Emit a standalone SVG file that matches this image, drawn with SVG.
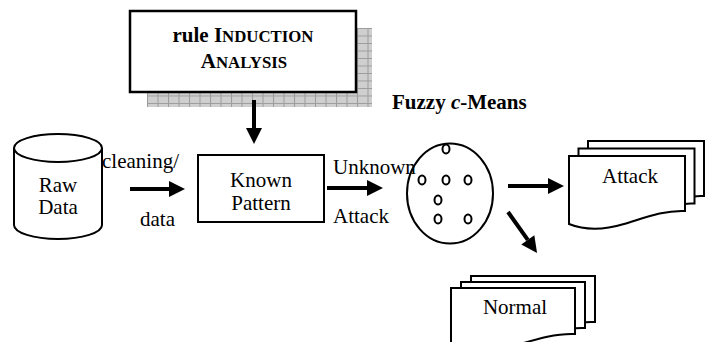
<svg xmlns="http://www.w3.org/2000/svg" width="709" height="342" viewBox="0 0 709 342">
<style>
text{font-family:'Liberation Serif','Times New Roman',Times,Tinos,'DejaVu Serif',serif;font-size:21px;fill:#000}
.b{font-weight:bold}
.sc{font-size:16.8px}
.ln{stroke:#000;stroke-width:2;fill:#fff}
.ar{stroke:#000;stroke-width:4;fill:none}
</style>
<defs>
<pattern id="grid" width="10.5" height="7.5" patternUnits="userSpaceOnUse" x="147" y="28">
<rect width="10.5" height="7.5" fill="#cfcfcf"/>
<path d="M0,0.5 H10.5 M0.5,0 V7.5" stroke="#9c9c9c" stroke-width="1"/>
</pattern>
<marker id="ah" markerUnits="userSpaceOnUse" markerWidth="17" markerHeight="18" refX="0" refY="9" orient="auto" overflow="visible">
<path d="M0,1 L16,9 L0,17 z" fill="#000"/>
</marker>
<path id="docA" d="M0,0 H116 V55 C95,54 75,62 55,68 C35,74 15,74 0,68 Z"/>
<path id="docN" d="M0,0 H124 V46 C102,45 80,53 59,59 C37,65 16,66 0,60 Z"/>
</defs>

<g id="rule-induction">
<rect x="147" y="28" width="225" height="79" fill="url(#grid)"/>
<rect x="130" y="11" width="226" height="81" fill="#fff" stroke="#000" stroke-width="2.5"/>
<text class="b" x="243" y="42" text-anchor="middle">rule I<tspan class="sc">NDUCTION</tspan></text>
<text class="b" x="244" y="68" text-anchor="middle">A<tspan class="sc">NALYSIS</tspan></text>
</g>

<g id="raw-data">
<path class="ln" d="M14,148 V225 A44,14 0 0 0 102,225 V148"/>
<ellipse class="ln" cx="58" cy="148" rx="44" ry="14"/>
<text x="58" y="192" text-anchor="middle" font-size="20">Raw</text>
<text x="58" y="214" text-anchor="middle" font-size="20">Data</text>
</g>

<g id="known-pattern">
<rect class="ln" x="198" y="155" width="126" height="67"/>
<text x="261" y="187" text-anchor="middle">Known</text>
<text x="261" y="210" text-anchor="middle">Pattern</text>
</g>

<g id="fuzzy-c-means">
<text class="b" x="392" y="109" font-size="20">Fuzzy <tspan font-style="italic">c</tspan>-Means</text>
<ellipse class="ln" cx="450" cy="193.5" rx="43" ry="50"/>
<g class="ln">
<ellipse cx="446" cy="149" rx="3.5" ry="4.5"/>
<ellipse cx="422" cy="180" rx="3.5" ry="4.5"/>
<ellipse cx="446" cy="180" rx="3.5" ry="4.5"/>
<ellipse cx="468" cy="180" rx="3.5" ry="4.5"/>
<ellipse cx="438" cy="200" rx="3.5" ry="4.5"/>
<ellipse cx="438" cy="219" rx="3.5" ry="4.5"/>
<ellipse cx="468" cy="219" rx="3.5" ry="4.5"/>
</g>
</g>

<g id="attack">
<use href="#docA" x="588" y="141" class="ln"/>
<use href="#docA" x="578.5" y="148.5" class="ln"/>
<use href="#docA" x="569" y="156" class="ln"/>
<text x="630" y="183" text-anchor="middle">Attack</text>
</g>

<g id="normal">
<use href="#docN" x="471" y="276" class="ln"/>
<use href="#docN" x="461" y="282" class="ln"/>
<use href="#docN" x="451" y="288" class="ln"/>
<text x="515" y="314" text-anchor="middle">Normal</text>
</g>

<g id="connectors">
<line class="ar" x1="254" y1="100" x2="254" y2="128" marker-end="url(#ah)"/>
<line class="ar" x1="130" y1="189" x2="169" y2="189" marker-end="url(#ah)"/>
<text x="102" y="168">cleaning/</text>
<text x="140" y="226">data</text>
<line class="ar" x1="327" y1="188" x2="367" y2="188" marker-end="url(#ah)"/>
<text x="333" y="174">Unknown</text>
<text x="333" y="223">Attack</text>
<line class="ar" x1="508" y1="186" x2="548" y2="186" marker-end="url(#ah)"/>
<line class="ar" x1="508" y1="212" x2="527.8" y2="239.9" marker-end="url(#ah)"/>
</g>
</svg>
